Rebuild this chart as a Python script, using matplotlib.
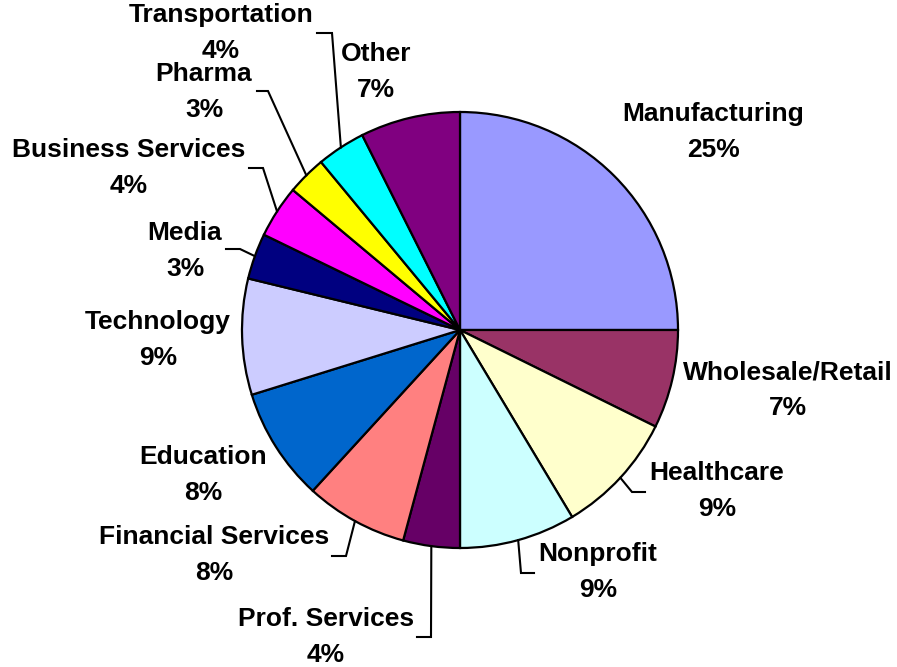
import numpy as np
import matplotlib
matplotlib.use('Agg')
import matplotlib.pyplot as plt

W, H = 897, 667

# industry shares (percent), clockwise from 12 o'clock
industries = ['Manufacturing', 'Wholesale/Retail', 'Healthcare', 'Nonprofit',
              'Prof. Services', 'Financial Services', 'Education', 'Technology',
              'Media', 'Business Services', 'Pharma', 'Transportation', 'Other']
shares = [25.0, 7.3, 9.1, 8.6, 4.2, 7.6, 8.4, 8.6, 3.4, 3.9, 2.9, 3.6, 7.4]
colors = ['#9999FF', '#993366', '#FFFFCC', '#CCFFFF', '#660066', '#FF8080',
          '#0066CC', '#CCCCFF', '#000080', '#FF00FF', '#FFFF00', '#00FFFF',
          '#800080']

# label block centres, in pixels from the top-left
label_pos = {
    'Manufacturing': (713, 132),
    'Wholesale/Retail': (788, 390),
    'Healthcare': (717, 491),
    'Nonprofit': (598, 572),
    'Prof. Services': (326, 637),
    'Financial Services': (214, 555),
    'Education': (203, 475),
    'Technology': (158, 340),
    'Media': (185, 251),
    'Business Services': (129, 168),
    'Pharma': (204, 92),
    'Transportation': (221, 33),
    'Other': (376, 72),
}
# leader lines: elbow point and end of the short horizontal tail
leaders = {
    'Healthcare': ((632, 492), 645),
    'Nonprofit': ((521, 573), 534),
    'Prof. Services': ((431, 637), 417),
    'Financial Services': ((346, 556), 332),
    'Media': ((240, 249), 226),
    'Business Services': ((263, 168), 249),
    'Pharma': ((268, 91), 257),
    'Transportation': ((332, 33), 317),
}

cx, cy, r = 460, 330, 218

fig = plt.figure(figsize=(W / 100, H / 100), dpi=100)
ax = fig.add_axes([0, 0, 1, 1])
wedges, _ = ax.pie(shares, colors=colors, startangle=90, counterclock=False,
                   radius=r, center=(cx, H - cy),
                   wedgeprops=dict(edgecolor='black', linewidth=1.6))
ax.set_xlim(0, W)
ax.set_ylim(0, H)
ax.set_aspect('equal')
ax.axis('off')

total = sum(shares)
for name, val, w in zip(industries, shares, wedges):
    lx, ly = label_pos[name]
    ax.text(lx, H - ly, f'{name}\n{round(val / total * 100):.0f}%',
            ha='center', va='center', fontsize=19, fontweight='bold',
            family='Liberation Sans', linespacing=1.62)
    if name in leaders:
        mid = np.deg2rad((w.theta1 + w.theta2) / 2)
        x0 = cx + r * np.cos(mid)
        y0 = (H - cy) + r * np.sin(mid)
        (ex, ey), tx = leaders[name]
        ax.plot([x0, ex, tx], [y0, H - ey, H - ey], color='black', lw=1.5,
                solid_joinstyle='miter')

plt.savefig('out.png', dpi=100)
